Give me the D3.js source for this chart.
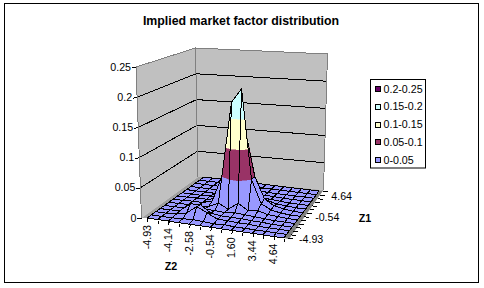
<!DOCTYPE html>
<html><head><meta charset="utf-8">
<script src="https://cdn.jsdelivr.net/npm/d3@7"></script>
<style>html,body{margin:0;padding:0;background:#fff}svg{display:block}text{font-family:"Liberation Sans",Arial,sans-serif;fill:#000}</style>
</head><body><div id="c"></div>
<script>
const chartTitle = "Implied market factor distribution";
const z2Categories = ["-4.93","-4.64","-4.14","-3.44","-2.58","-1.60","-0.54","0.54","1.60","2.58","3.44","4.14","4.64","4.93"];
const z1Categories = z2Categories;
const z2LabelStep = 2;
const z1LabelStep = 6;
const valueTicks = [0,0.05,0.1,0.15,0.2,0.25];
const valueTickLabels = ["0","0.05","0.1","0.15","0.2","0.25"];
const bandLabels = ["0-0.05","0.05-0.1","0.1-0.15","0.15-0.2","0.2-0.25"];
const bandColors = ["#9999FF","#993366","#FFFFCC","#CCFFFF","#660066"];
const legendOrder = [4,3,2,1,0];
// rows are Z1 (front to back), columns are Z2 (left to right)
const surfaceValues = [
[0,0,0,0,0,0,0,0,0,0,0,0,0,0],
[0,0,0,0.001,0.002,0.001,0,0.001,0,0,0,0,0,0],
[0,0,0.001,0.005,0.018,0.010,0.002,0.002,0.001,0.001,0,0,0,0],
[0,0,0.002,0.015,0.016,0.004,0.002,0.002,0.002,0.001,0.001,0,0,0],
[0,0,0.001,0.002,0.003,0.003,0.002,0.004,0.003,0.002,0.001,0,0,0],
[0,0,0.001,0.001,0.002,0.010,0.002,0.014,0.004,0.006,0.002,0.001,0,0],
[0,0,0.001,0.001,0.006,0.050,0.177,0.200,0.050,0.012,0.004,0.001,0,0],
[0,0,0.001,0.001,0.004,0.030,0.140,0.130,0.050,0.015,0.005,0.002,0,0],
[0,0,0,0.001,0.002,0.008,0.020,0.020,0.012,0.006,0.002,0.001,0,0],
[0,0,0,0,0.001,0.002,0.004,0.004,0.003,0.002,0.001,0,0,0],
[0,0,0,0,0,0.001,0.001,0.001,0.001,0.001,0,0,0,0],
[0,0,0,0,0,0,0.001,0.001,0,0,0,0,0,0],
[0,0,0,0,0,0,0,0,0,0,0,0,0,0],
[0,0,0,0,0,0,0,0,0,0,0,0,0,0]
];
const W=484,H=288;
const svg=d3.select("#c").append("svg").attr("width",W).attr("height",H);
const lerp=(a,b,t)=>a+(b-a)*t;
const nI=z2Categories.length,nJ=z1Categories.length;
const iS=d3.scaleLinear().domain([0,nI-1]).range([0,1]);
const jS=d3.scaleLinear().domain([0,nJ-1]).range([0,1]);
const vS=d3.scaleLinear().domain([0,0.25]).range([0,1]);
const surfA=[147,218],surfB=[284,238],surfC=[319,191],surfD=[204,177];
const hA=150,hB=175,hC=136,hD=129;
const wallL={b:[141.5,218],t:[136,67]},wallK={b:[198,177],t:[195.5,48]},wallR={b:[323.5,190],t:[327.5,54]};
const floorFront=[289,239];
function floorPt(i,j){const u=iS(i),w=jS(j);
  const fr=[lerp(surfA[0],surfB[0],u),lerp(surfA[1],surfB[1],u)],bk=[lerp(surfD[0],surfC[0],u),lerp(surfD[1],surfC[1],u)];
  return [lerp(fr[0],bk[0],w),lerp(fr[1],bk[1],w)];}
function proj(i,j,v){const u=iS(i),w=jS(j),p=floorPt(i,j);
  const h=lerp(lerp(hA,hB,u),lerp(hD,hC,u),w)*vS(v);
  return [p[0]+(p[0]-242)*0.000357*h,p[1]-h];}
const wallPt=(e,v)=>[lerp(e.b[0],e.t[0],vS(v)),lerp(e.b[1],e.t[1],vS(v))];
const line=d3.line();
const closed=d3.line().curve(d3.curveLinearClosed);
const walls=svg.append("g");
svg.append("rect").attr("x",4.5).attr("y",3.5).attr("width",474).attr("height",279).attr("fill","none").attr("stroke","#000");
svg.append("text").attr("x",241).attr("y",25).attr("text-anchor","middle").attr("font-size",12.35).attr("font-weight","bold").text(chartTitle);
walls.append("path").attr("d",closed([wallL.b,wallL.t,wallK.t,wallR.t,wallR.b,wallK.b])).attr("fill","#C0C0C0");
walls.append("path").attr("d",closed([wallL.b,wallK.b,surfD,surfA])).attr("fill","#A0A0A0");
walls.append("path").attr("d",closed([wallK.b,wallR.b,surfC,surfD])).attr("fill","#A0A0A0");
walls.append("path").attr("d",closed([surfB,surfC,wallR.b,floorFront])).attr("fill","#808080");
valueTicks.slice(1,5).forEach(v=>{
  walls.append("path").attr("d",line([wallPt(wallL,v),wallPt(wallK,v),wallPt(wallR,v)])).attr("fill","none").attr("stroke","#000").attr("shape-rendering","crispEdges");
});
walls.append("path").attr("d",line([wallL.b,wallL.t,wallK.t,wallR.t,wallR.b])).attr("fill","none").attr("stroke","#808080").attr("shape-rendering","crispEdges");
walls.append("path").attr("d",line([wallK.t,wallK.b])).attr("fill","none").attr("stroke","#808080").attr("shape-rendering","crispEdges");
const tickG=svg.append("g");
valueTicks.forEach((v,k)=>{
  const p=wallPt(wallL,v);
  tickG.append("path").attr("d",line([p,[p[0]-4,p[1]+1]])).attr("stroke","#000").attr("fill","none").attr("shape-rendering","crispEdges");
  tickG.append("text").attr("x",p[0]-5).attr("y",p[1]+3.5).attr("text-anchor","end").attr("font-size",10.67).text(valueTickLabels[k]);
});
const surf=svg.append("g").attr("shape-rendering","crispEdges");
const bandEdges=[0,0.05,0.1,0.15,0.2,0.25];
function clip(poly,lo,hi){
  const cut=(pts,keep,lim)=>{const out=[];pts.forEach((a,n)=>{const b=pts[(n+1)%pts.length];
    const ka=keep(a[2]),kb=keep(b[2]);
    if(ka)out.push(a);
    if(ka!==kb){const t=(lim-a[2])/(b[2]-a[2]);out.push([lerp(a[0],b[0],t),lerp(a[1],b[1],t),lim]);}
  });return out;};
  let r=cut(poly,v=>v>=lo,lo);
  if(r.length)r=cut(r,v=>v<=hi,hi);
  return r;
}
for(let j=nJ-2;j>=0;j--){for(let i=0;i<nI-1;i++){
  const q=[[i,j],[i+1,j],[i+1,j+1],[i,j+1]].map(([a,b])=>[a,b,surfaceValues[b][a]]);
  bandColors.forEach((c,b)=>{
    const part=clip(q,bandEdges[b],bandEdges[b+1]);
    if(part.length>2)surf.append("path").attr("d",closed(part.map(p=>proj(p[0],p[1],p[2])))).attr("fill",c).attr("stroke",c).attr("stroke-width",0.5);
  });
  surf.append("path").attr("d",closed(q.map(p=>proj(p[0],p[1],p[2])))).attr("fill","none").attr("stroke","#000").attr("stroke-width",1);
}}
const axG=svg.append("g");
z2Categories.forEach((c,i)=>{
  const p=floorPt(i,0);
  axG.append("path").attr("d",line([[p[0]+1,p[1]+1],[p[0]+0.5,p[1]+4]])).attr("stroke","#000").attr("fill","none").attr("shape-rendering","crispEdges");
  if(i%z2LabelStep===0&&i<nI-1){
    axG.append("text").attr("transform",`translate(${p[0]+3.8},${p[1]+7}) rotate(-90)`).attr("text-anchor","end").attr("font-size",10.67).text(c);
  }
});
z1Categories.forEach((c,j)=>{
  const p=floorPt(nI-1,j);
  axG.append("path").attr("d",line([[p[0]+4,p[1]+0.5],[p[0]+9,p[1]+1]])).attr("stroke","#000").attr("fill","none").attr("shape-rendering","crispEdges");
  if(j%z1LabelStep===0&&j<nJ-1){
    axG.append("text").attr("x",p[0]+15).attr("y",p[1]+5).attr("font-size",10.67).text(c);
  }
});
svg.append("text").attr("x",171).attr("y",270).attr("text-anchor","middle").attr("font-size",10.67).attr("font-weight","bold").text("Z2");
svg.append("text").attr("x",365).attr("y",222).attr("text-anchor","middle").attr("font-size",10.67).attr("font-weight","bold").text("Z1");
const lg=svg.append("g");
lg.append("rect").attr("x",370.5).attr("y",79.5).attr("width",55).attr("height",88.5).attr("fill","#fff").attr("stroke","#000");
const legendY=d3.scalePoint().domain(legendOrder).range([89,160]);
legendOrder.forEach(b=>{
  const y=legendY(b);
  lg.append("rect").attr("x",375.5).attr("y",Math.round(y)-2.5).attr("width",5).attr("height",5).attr("fill",bandColors[b]).attr("stroke","#000");
  lg.append("text").attr("x",383.5).attr("y",y+3.7).attr("font-size",10.67).text(bandLabels[b]);
});
</script></body></html>
